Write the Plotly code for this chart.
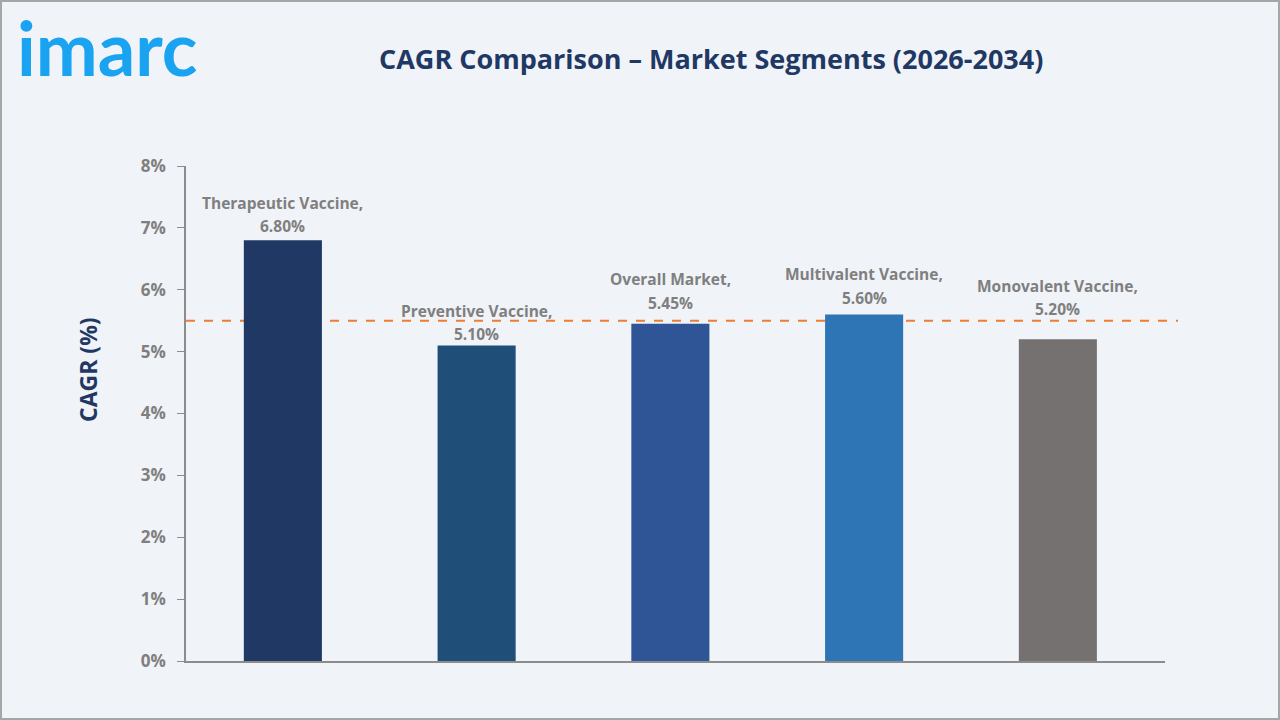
import plotly.graph_objects as go

categories = ["Therapeutic Vaccine", "Preventive Vaccine", "Overall Market", "Multivalent Vaccine", "Monovalent Vaccine"]
cagr = [6.80, 5.10, 5.45, 5.60, 5.20]
bar_colors = ["#1F3864", "#1F4E79", "#2F5597", "#2E75B6", "#767171"]
reference_line = 5.5
y_ticks = [0, 1, 2, 3, 4, 5, 6, 7, 8]
y_tick_labels = ["0%", "1%", "2%", "3%", "4%", "5%", "6%", "7%", "8%"]
# label lift above each bar top (px) - styling only
label_lift = [14, 11, 21, 17, 30]

W, H = 1280, 720
L, R, T, B = 186, 115, 166, 59
pw, ph = W - L - R, H - T - B


def px_x(x):
    return (x - L) / pw


def px_y(y):
    return (H - B - y) / ph


label_font = dict(family="Open Sans", size=15.5, color="#7F7F7F", weight="bold")

fig = go.Figure()
fig.add_trace(go.Bar(
    x=categories, y=cagr, marker_color=bar_colors, marker_line_width=0,
    hoverinfo="skip",
))

for c, v, lift in zip(categories, cagr, label_lift):
    fig.add_annotation(x=c, y=v, text=f"{v:.2f}%", showarrow=False, yanchor="middle",
                       yshift=lift, font=label_font)
    fig.add_annotation(x=c, y=v, text=f"{c},", showarrow=False, yanchor="middle",
                       yshift=lift + 23.5, font=label_font)

fig.add_shape(type="line", xref="paper", yref="y", x0=0, x1=px_x(1178),
              y0=reference_line, y1=reference_line, layer="below",
              line=dict(color="#ED7D31", width=2, dash="dash"))

fig.add_shape(type="rect", xref="paper", yref="paper",
              x0=px_x(1), x1=px_x(W - 1), y0=px_y(H - 1), y1=px_y(1),
              line=dict(color="#A6A6A6", width=2), fillcolor="rgba(0,0,0,0)", layer="below")

fig.add_annotation(text="imarc", xref="paper", yref="paper",
                   x=px_x(15), y=px_y(47), xanchor="left", yanchor="middle",
                   showarrow=False,
                   font=dict(family="Lato", size=74, color="#1AA3F0", weight="bold"))

fig.add_annotation(text="CAGR Comparison – Market Segments (2026-2034)", xref="paper", yref="paper",
                   x=px_x(711), y=px_y(59), xanchor="center", yanchor="middle",
                   showarrow=False,
                   font=dict(family="Open Sans", size=27, color="#1F3864", weight="bold"))

fig.add_annotation(text="CAGR (%)", xref="paper", yref="paper",
                   x=px_x(88), y=px_y(370), xanchor="center", yanchor="middle",
                   textangle=-90, showarrow=False,
                   font=dict(family="Open Sans", size=23, color="#1F3864", weight="bold"))

fig.update_layout(
    width=W, height=H,
    margin=dict(l=L, r=R, t=T, b=B),
    paper_bgcolor="#F0F3F8", plot_bgcolor="#F0F3F8",
    bargap=0.597, showlegend=False,
    xaxis=dict(showticklabels=False, showgrid=False, zeroline=False, range=[-0.5, 4.553],
               showline=True, linecolor="#8C8C8C", linewidth=1.5, ticks=""),
    yaxis=dict(range=[0, 8], tickvals=y_ticks, ticktext=y_tick_labels,
               showgrid=False, zeroline=False, showline=True, linecolor="#8C8C8C", linewidth=1.5,
               ticks="outside", ticklen=7, tickcolor="#8C8C8C", ticklabelstandoff=8,
               tickfont=dict(family="Open Sans", size=17, color="#7F7F7F", weight="bold")),
)

fig.write_html("out.html")
